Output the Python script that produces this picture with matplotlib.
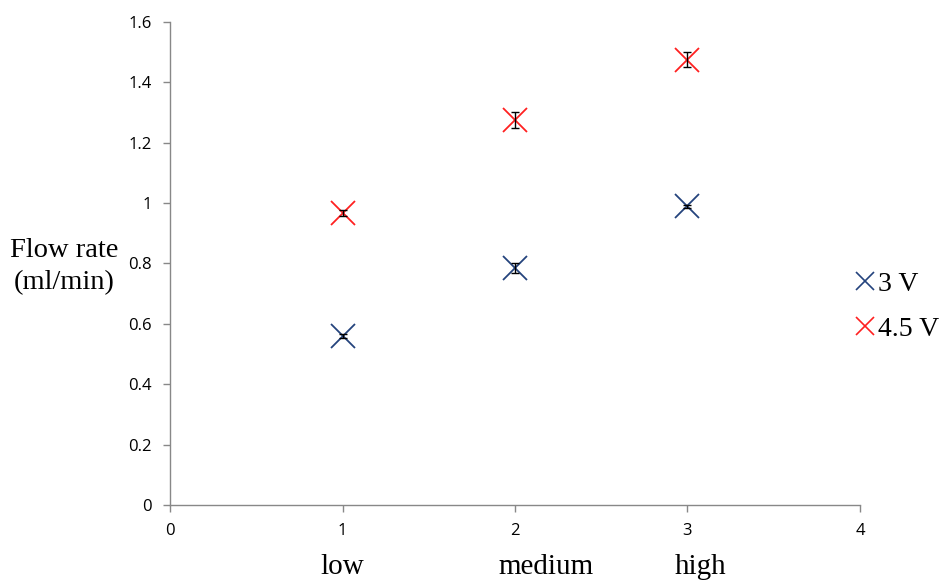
import matplotlib
matplotlib.use("Agg")
import matplotlib.pyplot as plt
from matplotlib.lines import Line2D

x_vals = [1, 2, 3]
categories = ["low", "medium", "high"]
v3 = [0.56, 0.785, 0.99]
v3_err = [0.007, 0.018, 0.005]
v45 = [0.967, 1.275, 1.475]
v45_err = [0.01, 0.027, 0.025]
series_labels = ["3 V", "4.5 V"]
x_ticks = [0, 1, 2, 3, 4]
y_ticks = [0, 0.2, 0.4, 0.6, 0.8, 1, 1.2, 1.4, 1.6]
y_tick_labels = ["0", "0.2", "0.4", "0.6", "0.8", "1", "1.2", "1.4", "1.6"]

navy = "#24437D"
red = "#FF2020"
gray = "#888888"
tickfont = "Open Sans"
serif = "Liberation Serif"

fig = plt.figure(figsize=(9.45, 5.81), dpi=100)
ax = fig.add_axes([0.18, 0.131, 0.73, 0.831])

for ys, errs, col in [(v3, v3_err, navy), (v45, v45_err, red)]:
    ax.plot(x_vals, ys, linestyle="none", marker="x", markersize=17,
            markeredgewidth=1.3, color=col, zorder=2)
    ax.errorbar(x_vals, ys, yerr=errs, fmt="none", ecolor="black",
                elinewidth=1.0, capsize=3, capthick=1.0, zorder=3)

ax.set_xlim(0, 4)
ax.set_ylim(0, 1.6)
ax.set_xticks(x_ticks)
ax.set_xticklabels([str(t) for t in x_ticks], fontfamily=tickfont, fontsize=12)
ax.set_yticks(y_ticks)
ax.set_yticklabels(y_tick_labels, fontfamily=tickfont, fontsize=12)
for s in ["top", "right"]:
    ax.spines[s].set_visible(False)
for s in ["left", "bottom"]:
    ax.spines[s].set_color(gray)
    ax.spines[s].set_linewidth(1.0)
ax.tick_params(axis="both", direction="out", length=5, color=gray, width=1.0, pad=8)

# category text boxes sit slightly right of their ticks, as in the reference
label_shift = [0.0, 0.18, 0.075]
for xv, cat, dx in zip(x_vals, categories, label_shift):
    ax.annotate(cat, xy=(xv + dx, 0), xycoords=("data", "axes fraction"),
                xytext=(0, -62), textcoords="offset pixels",
                ha="center", va="center", fontfamily=serif, fontsize=21,
                annotation_clip=False)

fig.text(0.068, 0.541, "Flow rate\n(ml/min)", ha="center", va="center",
         fontfamily=serif, fontsize=20.5, linespacing=1.35)

handles = [Line2D([], [], linestyle="none", marker="x", markersize=12.5,
                  markeredgewidth=1.2, color=c) for c in (navy, red)]
leg = fig.legend(handles, series_labels, loc="center left",
                 bbox_to_anchor=(0.9025, 0.472), frameon=False,
                 prop={"family": serif, "size": 20}, handletextpad=0.0,
                 labelspacing=0.72, handlelength=0.9, borderpad=0,
                 borderaxespad=0)

fig.savefig("out.png", dpi=100)
